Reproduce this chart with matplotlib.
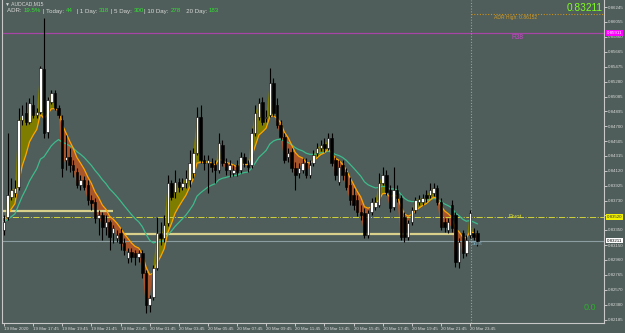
import matplotlib
matplotlib.use('Agg')
import matplotlib.pyplot as plt
import matplotlib.transforms as mtransforms
import numpy as np
import pandas as pd

# AUDCAD M15, 19 Mar 15:45 -> 20 Mar, one entry per bar
opens = [0.83350, 0.83519, 0.83779, 0.83831, 0.83909, 0.84780, 0.84871, 0.84754, 0.84975, 0.84845,
         0.84884, 0.85443, 0.84624, 0.85014, 0.85131, 0.84936, 0.84780, 0.84260, 0.84299, 0.84195,
         0.84104, 0.83935, 0.84000, 0.83935, 0.83740, 0.83714, 0.83506, 0.83545, 0.83389, 0.83454,
         0.83311, 0.83246, 0.83311, 0.83181, 0.82986, 0.83064, 0.83051, 0.82999, 0.83051, 0.82791,
         0.82375, 0.82479, 0.82856, 0.83311, 0.83246, 0.83441, 0.83961, 0.83844, 0.83974, 0.83909,
         0.83961, 0.84000, 0.84091, 0.84351, 0.84819, 0.84260, 0.84221, 0.84221, 0.84195, 0.84130,
         0.84455, 0.84221, 0.84130, 0.84091, 0.84195, 0.84130, 0.84299, 0.84195, 0.84195, 0.84611,
         0.84819, 0.85014, 0.84806, 0.84845, 0.85261, 0.84975, 0.84715, 0.84559, 0.84299, 0.84364,
         0.84156, 0.84091, 0.84130, 0.84221, 0.84065, 0.84221, 0.84351, 0.84416, 0.84468, 0.84416,
         0.84546, 0.84260, 0.83974, 0.84195, 0.84104, 0.83935, 0.83805, 0.83740, 0.83584, 0.83571,
         0.83285, 0.83584, 0.83649, 0.83675, 0.83961, 0.84065, 0.83870, 0.83649, 0.83870, 0.83766,
         0.83519, 0.83259, 0.83454, 0.83610, 0.83714, 0.83714, 0.83805, 0.83805, 0.83831, 0.83896,
         0.83714, 0.83454, 0.83350, 0.83675, 0.83545, 0.82934, 0.83311, 0.83051, 0.83285, 0.83311,
         0.83311]
highs = [0.83545, 0.84611, 0.84026, 0.84000, 0.84936, 0.84975, 0.85014, 0.85066, 0.85105, 0.84936,
         0.85482, 0.86106, 0.85079, 0.85170, 0.85170, 0.84975, 0.84845, 0.84585, 0.84416, 0.84260,
         0.84156, 0.84065, 0.84052, 0.84000, 0.83805, 0.83766, 0.83610, 0.83584, 0.83545, 0.83480,
         0.83415, 0.83350, 0.83376, 0.83246, 0.83116, 0.83116, 0.83090, 0.83090, 0.83090, 0.82830,
         0.82505, 0.82895, 0.83519, 0.83454, 0.83545, 0.84065, 0.84000, 0.84130, 0.84026, 0.84026,
         0.84130, 0.84390, 0.84416, 0.84949, 0.84975, 0.84325, 0.84325, 0.84286, 0.84260, 0.84611,
         0.84520, 0.84286, 0.84260, 0.84195, 0.84260, 0.84364, 0.84351, 0.84260, 0.84676, 0.84975,
         0.85066, 0.85079, 0.84910, 0.85456, 0.85326, 0.85066, 0.84780, 0.84611, 0.84416, 0.84416,
         0.84234, 0.84221, 0.84286, 0.84286, 0.84260, 0.84390, 0.84481, 0.84520, 0.84546, 0.84611,
         0.84611, 0.84299, 0.84260, 0.84260, 0.84156, 0.84039, 0.83896, 0.83805, 0.83675, 0.83636,
         0.83610, 0.83766, 0.83779, 0.84091, 0.84169, 0.84130, 0.83935, 0.84169, 0.83935, 0.83805,
         0.83584, 0.83480, 0.83649, 0.83779, 0.83805, 0.83818, 0.83870, 0.83961, 0.83961, 0.83935,
         0.83766, 0.83506, 0.83506, 0.83740, 0.83584, 0.83246, 0.83350, 0.83285, 0.83610, 0.83376,
         0.83350]
lows = [0.83285, 0.83480, 0.83740, 0.83779, 0.83870, 0.84715, 0.84715, 0.84728, 0.84806, 0.84806,
        0.84858, 0.84546, 0.84546, 0.84988, 0.84910, 0.84806, 0.84039, 0.84130, 0.84104, 0.84039,
        0.83896, 0.83870, 0.83870, 0.83675, 0.83610, 0.83441, 0.83285, 0.83220, 0.83285, 0.83090,
        0.83181, 0.83194, 0.83090, 0.83025, 0.82921, 0.82934, 0.82895, 0.82934, 0.82726, 0.82271,
        0.82284, 0.82440, 0.82830, 0.83155, 0.83194, 0.83402, 0.83740, 0.83766, 0.83844, 0.83870,
        0.83896, 0.83909, 0.84026, 0.84325, 0.84221, 0.84130, 0.83831, 0.84104, 0.83961, 0.84091,
        0.84182, 0.84065, 0.84039, 0.84052, 0.84052, 0.84091, 0.84169, 0.84104, 0.84156, 0.84572,
        0.84780, 0.84715, 0.84754, 0.84819, 0.84832, 0.84676, 0.84520, 0.84221, 0.84234, 0.84104,
        0.83870, 0.84026, 0.84091, 0.84026, 0.84026, 0.84182, 0.84312, 0.84377, 0.84364, 0.84390,
        0.84182, 0.84000, 0.83935, 0.84000, 0.83870, 0.83675, 0.83610, 0.83532, 0.83480, 0.83246,
        0.83246, 0.83545, 0.83610, 0.83649, 0.83935, 0.83805, 0.83584, 0.83610, 0.83714, 0.83220,
        0.83194, 0.83220, 0.83415, 0.83571, 0.83675, 0.83675, 0.83714, 0.83766, 0.83792, 0.83675,
        0.83350, 0.83324, 0.83311, 0.83324, 0.82869, 0.82856, 0.82986, 0.83012, 0.83246, 0.83220,
        0.83142]
closes = [0.83454, 0.83805, 0.83870, 0.83896, 0.84780, 0.84845, 0.84754, 0.85001, 0.84845, 0.84884,
          0.85456, 0.84611, 0.85040, 0.85131, 0.84936, 0.84845, 0.84156, 0.84299, 0.84195, 0.84130,
          0.83935, 0.84000, 0.83909, 0.83740, 0.83701, 0.83506, 0.83545, 0.83389, 0.83454, 0.83259,
          0.83376, 0.83285, 0.83181, 0.83090, 0.83064, 0.82999, 0.82999, 0.83051, 0.82791, 0.82375,
          0.82466, 0.82856, 0.83311, 0.83246, 0.83415, 0.83961, 0.83779, 0.83974, 0.83909, 0.83961,
          0.84026, 0.84221, 0.84351, 0.84819, 0.84260, 0.84221, 0.84260, 0.84169, 0.84130, 0.84481,
          0.84221, 0.84130, 0.84195, 0.84130, 0.84104, 0.84299, 0.84221, 0.84169, 0.84611, 0.84871,
          0.85001, 0.84754, 0.84819, 0.85261, 0.84871, 0.84715, 0.84559, 0.84260, 0.84351, 0.84156,
          0.84065, 0.84156, 0.84221, 0.84065, 0.84195, 0.84325, 0.84416, 0.84455, 0.84416, 0.84546,
          0.84221, 0.84065, 0.84169, 0.84065, 0.83909, 0.83740, 0.83675, 0.83584, 0.83545, 0.83285,
          0.83571, 0.83714, 0.83714, 0.83961, 0.84065, 0.83844, 0.83636, 0.83870, 0.83766, 0.83259,
          0.83259, 0.83441, 0.83610, 0.83740, 0.83753, 0.83766, 0.83766, 0.83870, 0.83896, 0.83714,
          0.83389, 0.83389, 0.83454, 0.83376, 0.82934, 0.83194, 0.83051, 0.83220, 0.83571, 0.83259,
          0.83211]

time_labels = ['19 Mar 2020', '19 Mar 17:45', '19 Mar 19:45', '19 Mar 21:45', '19 Mar 23:45',
               '20 Mar 01:45', '20 Mar 03:45', '20 Mar 05:45', '20 Mar 07:45', '20 Mar 09:45',
               '20 Mar 11:45', '20 Mar 13:45', '20 Mar 15:45', '20 Mar 17:45', '20 Mar 19:45',
               '20 Mar 21:45', '20 Mar 23:45']
price_ticks = ['0.86245', '0.86055', '0.85860', '0.85665', '0.85475', '0.85280', '0.85085',
               '0.84895', '0.84700', '0.84505', '0.84315', '0.84120', '0.83925', '0.83730',
               '0.83540', '0.83350', '0.83150', '0.82960', '0.82765', '0.82570', '0.82380', '0.82185']

r38 = 0.85911
adr_high = 0.86152
pivot = 0.83520
bid = 0.83211
level_hi = 0.83597
level_lo = 0.83298
adr_names = ['ADR: ', ' | Today: ', '  | 1 Day: ', ' | 5 Day: ', '| 10 Day: ', '   20 Day: ']
adr_values = ['19.5%', '44', '318', '300', '278', '183']

plt.rcParams['font.family'] = ['Liberation Sans', 'DejaVu Sans']

bg = '#4f5e5a'
fg = '#d8d8d8'

fig = plt.figure(figsize=(6.25, 3.33), dpi=100)
fig.patch.set_facecolor(bg)
ax = fig.add_axes([2/625, 10/333, 602/625, 323/333])
ax.set_facecolor(bg)

o = np.array(opens)
h = np.array(highs)
l = np.array(lows)
c = np.array(closes)
x = np.arange(len(c))
fast = pd.Series(c).ewm(span=7, adjust=False).mean().values
slow = pd.Series(c).ewm(span=20, adjust=False).mean().values

ax.fill_between(x, c, fast, where=c >= fast, interpolate=True, color='#7f7d00', lw=0, zorder=1)
ax.fill_between(x, c, fast, where=c < fast, interpolate=True, color='#a8552c', lw=0, zorder=1)

# levels
ax.axhline(r38, color='#a845a8', lw=0.9, zorder=1)
ax.hlines(adr_high, 128.3, 166, color='#c8901e', ls=(0, (1, 1.5)), lw=0.8, zorder=1)
ax.axhline(pivot, color='#d2d23c', ls='-.', lw=0.7, zorder=1)
ax.axhline(bid, color='#8d9ea3', lw=0.8, zorder=1)
ax.hlines(level_hi, -1, 30, color='#d9d08c', lw=1.6, zorder=1)
ax.hlines(level_lo, 33, 123.5, color='#d9d08c', lw=1.6, zorder=1)
ax.axvline(128.3, color='#93a39f', ls=(0, (1, 1.5)), lw=0.8, zorder=1)

ax.plot(x, slow, color='#3dbb8c', lw=0.9, zorder=2)
ax.plot(x, fast, color='#ffa500', lw=0.9, zorder=2)

# candles
ax.vlines(x, l, h, color='black', lw=0.8, zorder=3)
up = c >= o
body_lo = np.minimum(o, c)
body_h = np.maximum(np.abs(c - o), 0.00004)
ax.bar(x, body_h, bottom=body_lo, width=0.68,
       color=np.where(up, 'white', 'black'), edgecolor='black', lw=0.4, zorder=4)

ax.set_xlim(-0.55, 164.8)
ax.set_ylim(0.82141, 0.86340)

# the pivot box on the scale hides the label beneath it
shown = ['' if abs(float(t) - pivot) < 0.0006 else t for t in price_ticks]
ax.yaxis.tick_right()
ax.set_yticks([float(t) for t in price_ticks])
ax.set_yticklabels(shown)
ax.set_xticks(np.arange(len(time_labels)) * 8)
ax.set_xticklabels(time_labels, ha='left')
ax.tick_params(axis='both', colors=fg, labelsize=3.2, length=2, width=0.6, pad=1)
for side in ['left', 'bottom', 'right']:
    ax.spines[side].set_color('#c8c8c8')
    ax.spines[side].set_linewidth(0.8)
ax.spines['top'].set_visible(False)

# axis price boxes
tr = mtransforms.blended_transform_factory(ax.transAxes, ax.transData)
for val, face, txtcol in [(r38, '#ff00ff', '#ffffff'), (pivot, '#f0f000', '#333333'),
                          (bid, '#ffffff', '#000000')]:
    ax.text(1.0045, val, '%.5f' % val, transform=tr, fontsize=3.2, color=txtcol, va='center',
            bbox=dict(facecolor=face, edgecolor='none', pad=0.5), clip_on=False, zorder=6)

# labels on chart
ax.text(139.5, r38 - 0.00008, 'R38', color='#cc44cc', fontsize=4.8, va='top', zorder=5)
ax.text(134.5, adr_high - 0.0001, 'ADR High: ' + '%.5f' % adr_high, color='#d09a28',
        fontsize=3.6, va='top', zorder=5)
ax.text(138.5, pivot, 'Pivot', color='#e0e030', fontsize=4.2, va='center', zorder=5)
ax.text(128.6, bid - 0.0001, 'Start', color='#7fa9bb', fontsize=3.6, va='top', zorder=5)
ax.text(0.997, 0.99, '%.5f' % bid, transform=ax.transAxes, color='#80ff20', fontsize=7.3,
        ha='right', va='top', zorder=5)
ax.text(0.966, 0.035, '0.0', transform=ax.transAxes, color='#2cb02c', fontsize=6.5,
        ha='left', va='bottom', zorder=5)

fig.text(5/625, 1 - 1/333, '\u25bc AUDCAD,M15', color=fg, fontsize=3.6, va='top')

# ADR info line, pieces placed one after another
fig.canvas.draw()
renderer = fig.canvas.get_renderer()
xpos = 7 / 625
ypos = 1 - 8.5 / 333
for name, val in zip(adr_names, adr_values):
    for txt, col in [(name, fg), (val, '#33e033')]:
        t = fig.text(xpos, ypos, txt, color=col, fontsize=4.4, va='top')
        bb = t.get_window_extent(renderer=renderer)
        xpos += bb.width / fig.bbox.width

fig.savefig('out.png', dpi=100, facecolor=bg)
